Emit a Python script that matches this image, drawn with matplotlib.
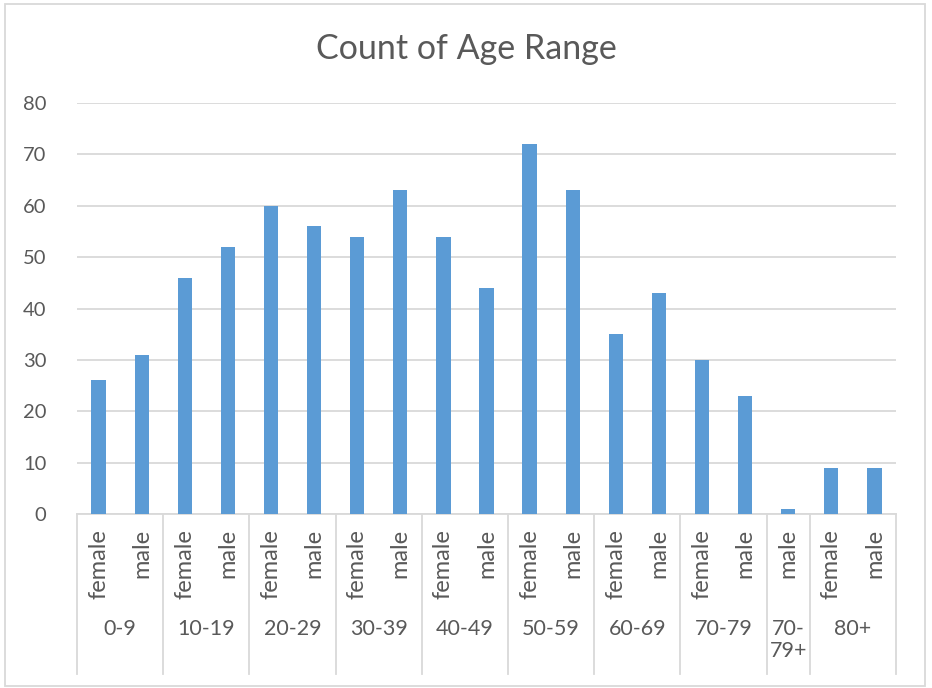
import matplotlib.pyplot as plt
import matplotlib.transforms as mtransforms
from matplotlib.patches import Rectangle

plt.rcParams['font.family'] = ['Lato', 'DejaVu Sans']

# data
group_labels = ['0-9', '10-19', '20-29', '30-39', '40-49', '50-59',
                '60-69', '70-79', '70-\n79+', '80+']
group_sizes = [2, 2, 2, 2, 2, 2, 2, 2, 1, 2]
sex_labels = ['female', 'male', 'female', 'male', 'female', 'male',
              'female', 'male', 'female', 'male', 'female', 'male',
              'female', 'male', 'female', 'male', 'male', 'female', 'male']
counts = [26, 31, 46, 52, 60, 56, 54, 63, 54, 44, 72, 63,
          35, 43, 30, 23, 1, 9, 9]

W, H = 932, 688
txt = '#595959'
grid = '#d9d9d9'

fig = plt.figure(figsize=(W / 100, H / 100), dpi=100)
ax = fig.add_axes([77 / W, 174 / H, (896 - 77) / W, (514 - 103) / H])

xs = list(range(len(counts)))
ax.bar(xs, counts, width=0.33, color='#5b9bd5', zorder=3)
ax.set_xlim(-0.5, len(counts) - 0.5)
ax.set_ylim(0, 80)
ax.set_yticks(range(0, 81, 10))
ax.yaxis.grid(True, color=grid, linewidth=1.3, zorder=0)
ax.tick_params(axis='y', length=0, labelsize=14.5, labelcolor=txt, pad=22)
ax.tick_params(axis='x', length=0, labelbottom=False)
for s in ['top', 'right', 'left']:
    ax.spines[s].set_visible(False)
ax.spines['bottom'].set_color(grid)
ax.spines['bottom'].set_linewidth(1.3)

trans = mtransforms.blended_transform_factory(ax.transData, ax.transAxes)
ah = 514 - 103

# sub-category labels
for x, lab in zip(xs, sex_labels):
    ax.text(x, -15 / ah, lab, rotation=90, ha='center', va='top',
            fontsize=17, color=txt, transform=trans)

# group labels and separators
start = 0
seps = [-0.5]
for lab, n in zip(group_labels, group_sizes):
    center = start + (n - 1) / 2
    ax.text(center, -105 / ah, lab, ha='center', va='top', fontsize=15.5,
            color=txt, transform=trans, linespacing=1.15)
    start += n
    seps.append(start - 0.5)
for sx in seps:
    ax.plot([sx, sx], [0, -160 / ah], color=grid, linewidth=1.3,
            transform=trans, clip_on=False)

fig.text(0.5, 1 - 49 / H, 'Count of Age Range', ha='center', va='center',
         fontsize=24.5, color=txt)

fig.patches.append(Rectangle((5 / W, 2 / H), 920 / W, 682 / H, fill=False,
                             edgecolor=grid, linewidth=1.3,
                             transform=fig.transFigure))

fig.savefig('out.png', dpi=100)
